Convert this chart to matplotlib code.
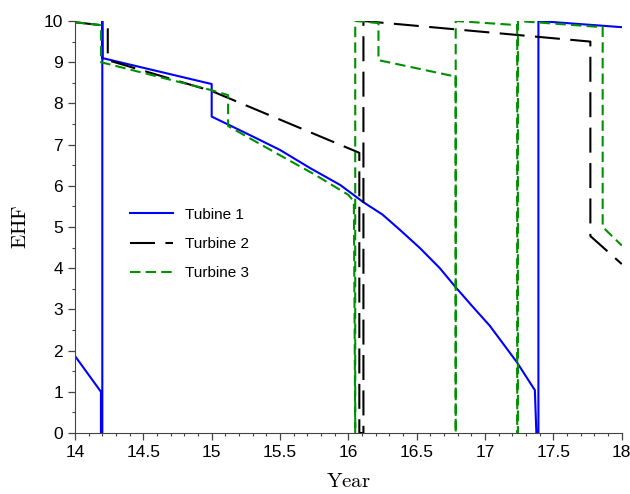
import matplotlib
matplotlib.use('Agg')
import matplotlib.pyplot as plt
from matplotlib.ticker import MultipleLocator

plt.rcParams['font.family'] = ['Liberation Sans', 'DejaVu Sans']
plt.rcParams['mathtext.fontset'] = 'cm'

# Turbine 1 (blue, solid)
t1_year = [14.0, 14.19, 14.19, 14.2, 14.2, 14.201, 15.0, 15.0, 15.28, 15.5, 15.72,
           15.94, 16.05, 16.106, 16.25, 16.377, 16.523, 16.669, 16.779, 16.9, 17.035,
           17.232, 17.364, 17.375, 17.39, 17.39, 18.0]
t1_ehf = [1.87, 1.0, 0.0, 0.0, 10.0, 9.1, 8.47, 7.68, 7.23, 6.87, 6.43,
          6.02, 5.75, 5.61, 5.3, 4.93, 4.49, 4.00, 3.56, 3.1, 2.6,
          1.72, 1.04, 0.0, 0.0, 10.0, 9.85]

# Turbine 2 (black, long dash)
t2_year = [14.0, 14.24, 14.24, 15.0, 16.03, 16.08, 16.08, 16.11, 16.11, 17.77, 17.77, 18.0]
t2_ehf = [9.97, 9.88, 9.05, 8.3, 6.87, 6.8, 0.0, 0.0, 10.0, 9.5, 4.78, 4.1]

# Turbine 3 (green, short dash)
t3_year = [14.0, 14.19, 14.19, 15.0, 15.12, 15.12, 15.5, 15.75, 16.0, 16.04, 16.05, 16.05,
           16.05, 16.22, 16.22, 16.785, 16.785, 16.785, 16.785, 17.235, 17.235, 17.24, 17.24,
           17.86, 17.86, 18.0]
t3_ehf = [9.97, 9.9, 9.0, 8.32, 8.2, 7.45, 6.74, 6.28, 5.78, 5.62, 0.0, 0.0,
          10.0, 9.95, 9.05, 8.65, 0.0, 0.0, 10.0, 9.9, 0.0, 0.0, 10.0,
          9.85, 5.0, 4.55]

fig = plt.figure(figsize=(6.3, 4.94), dpi=100)
ax = fig.add_axes([0.119, 0.1235, 0.868, 0.834])

ax.plot(t1_year, t1_ehf, color='#0000ff', lw=1.5, label='Tubine 1')
ax.plot(t2_year, t2_ehf, color='black', lw=1.5, dashes=(12, 5), label='Turbine 2')
ax.plot(t3_year, t3_ehf, color='#009000', lw=1.5, dashes=(5, 2.5), label='Turbine 3')

ax.set_xlim(14, 18)
ax.set_ylim(0, 10)
ax.xaxis.set_major_locator(MultipleLocator(0.5))
ax.xaxis.set_minor_locator(MultipleLocator(0.1))
ax.yaxis.set_major_locator(MultipleLocator(1))
ax.yaxis.set_minor_locator(MultipleLocator(0.5))
ax.set_xticks([14, 14.5, 15, 15.5, 16, 16.5, 17, 17.5, 18])
ax.set_xticklabels(['14', '14.5', '15', '15.5', '16', '16.5', '17', '17.5', '18'])

ax.spines['top'].set_visible(False)
ax.spines['right'].set_visible(False)
for s in ['left', 'bottom']:
    ax.spines[s].set_color('#444444')
ax.tick_params(which='major', length=5, width=0.9, color='#444444', labelsize=12.5)
ax.tick_params(which='minor', length=2.5, width=0.8, color='#444444')

ax.set_xlabel(r'$\mathrm{Year}$', fontsize=15, labelpad=9)
ax.set_ylabel(r'$\mathrm{EHF}$', fontsize=15, labelpad=10)

ax.legend(loc='upper left', bbox_to_anchor=(0.075, 0.58), frameon=False,
          fontsize=11, handlelength=2.8, labelspacing=1.0)

fig.savefig('out.png', dpi=100)
